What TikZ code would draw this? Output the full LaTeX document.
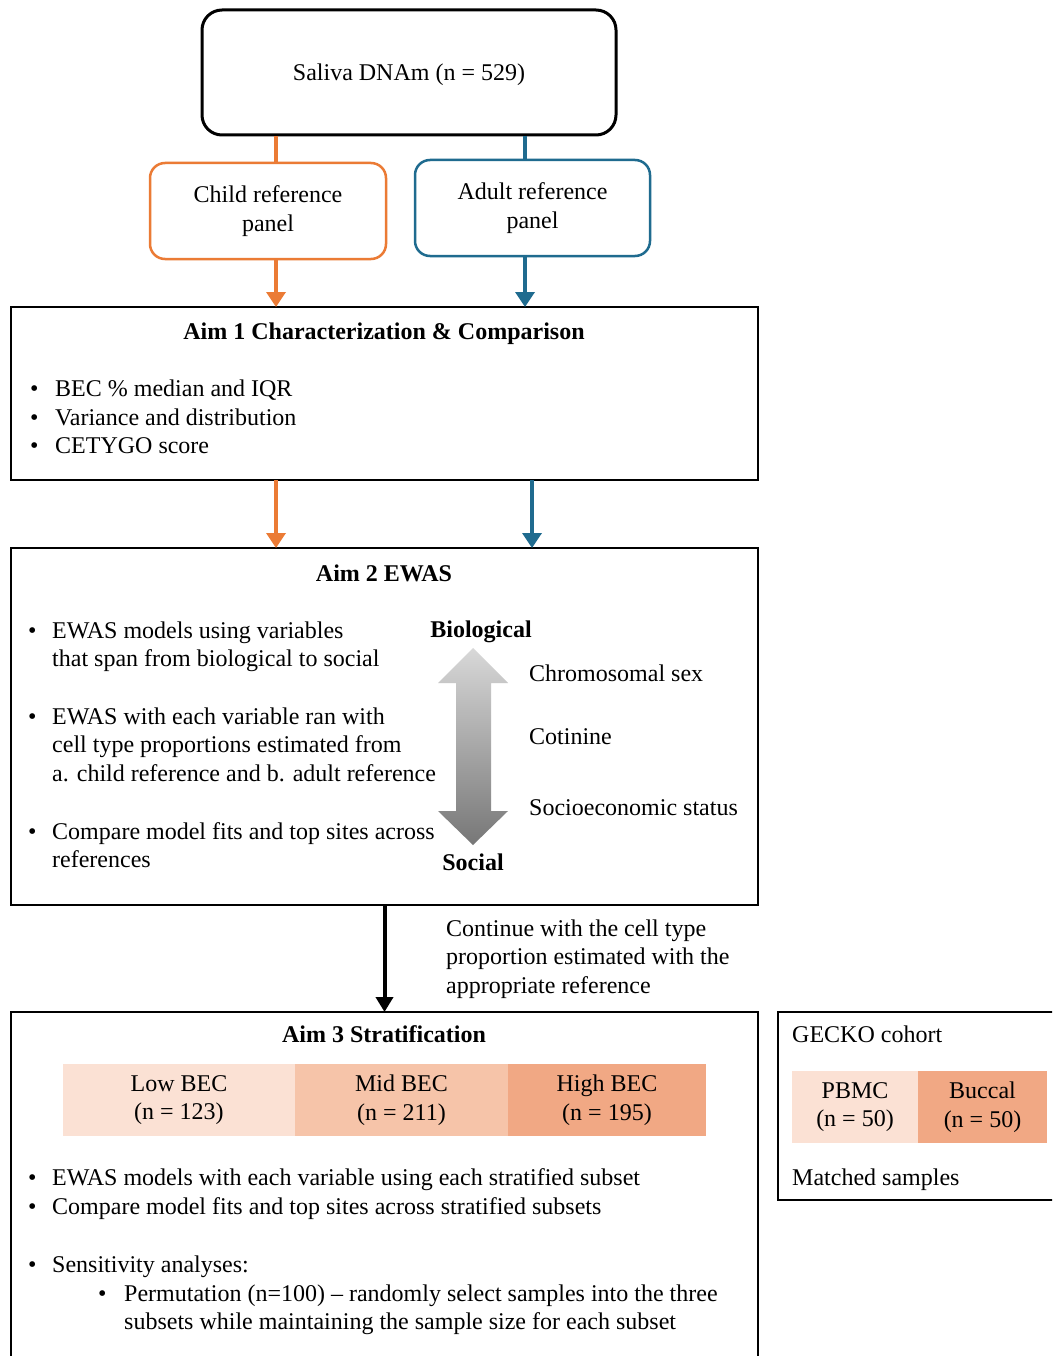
\documentclass[tikz,border=0pt]{standalone}
\usepackage{fontspec}
\setmainfont{Liberation Serif}
\usetikzlibrary{arrows.meta,positioning,calc}
\definecolor{RefOrange}{HTML}{EB7B35}
\definecolor{RefBlue}{HTML}{1F6B8F}
\definecolor{BecLow}{HTML}{FBE1D4}
\definecolor{BecMid}{HTML}{F6C4A9}
\definecolor{BecHigh}{HTML}{F1A884}
\definecolor{ArrLight}{HTML}{D8D8D8}
\definecolor{ArrDark}{HTML}{777777}
\newcommand{\bodyfont}{\fontsize{24}{28.5}\selectfont}
\newcommand{\bitem}[2][21pt]{\makebox[#1][l]{\textbullet}\begin{tabular}[t]{@{}l@{}}#2\end{tabular}}
\tikzset{
  aimbox/.style={draw=black,line width=2.5pt,minimum width=747pt,inner sep=0pt,outer sep=0pt},
  refbox/.style={rounded corners=15pt,line width=2.5pt,align=center,minimum width=236pt,minimum height=96pt,font=\bodyfont,fill=white},
  aimtitle/.style={font=\bodyfont\bfseries,anchor=base},
  bodytext/.style={font=\bodyfont,anchor=base west,inner sep=0pt},
  stratcell/.style={align=center,font=\bodyfont,minimum height=72pt,inner sep=0pt,outer sep=0pt},
  orarrow/.style={-{Triangle[length=15pt,width=19pt]},line width=3.5pt,draw=RefOrange},
  bluarrow/.style={-{Triangle[length=15pt,width=19pt]},line width=3.5pt,draw=RefBlue},
  blkarrow/.style={-{Triangle[length=15pt,width=17pt]},line width=4pt,draw=black}
}
\begin{document}
\begin{tikzpicture}[x=1pt,y=-1pt]
\clip (0,0) rectangle (1052,1356);
\fill[white] (0,0) rectangle (1052,1356);

% source and reference panels
\node[draw=black,line width=3pt,rounded corners=20pt,minimum width=414pt,minimum height=125pt,font=\bodyfont,text height=17pt,text depth=0pt] (saliva) at (409,72.5) {Saliva DNAm (n = 529)};
\node[refbox,draw=RefOrange] (child) at (268,211) {Child reference\\panel};
\node[refbox,draw=RefBlue,minimum width=235pt] (adult) at (532.5,208) {Adult reference\\panel};
\coordinate (orx) at (276,0);
\coordinate (blx) at (525,0);
\coordinate (blx2) at (532,0);

% aim boxes
\node[aimbox,minimum height=173pt] (aimone) at (384.5,393.5) {};
\node[aimbox,minimum height=357pt] (aimtwo) at (384.5,726.5) {};
\node[aimbox,minimum height=420pt] (aimthree) at (384.5,1222) {};
\node[draw=black,line width=2.5pt,minimum width=290pt,minimum height=188pt,inner sep=0pt] (gecko) at (923,1106) {};

% connectors
\draw[line width=3.5pt,draw=RefOrange] (saliva.south -| orx) -- (child.north -| orx);
\draw[line width=3.5pt,draw=RefBlue] (saliva.south -| blx) -- (adult.north -| blx);
\draw[orarrow] (child.south -| orx) -- (aimone.north -| orx);
\draw[bluarrow] (adult.south -| blx) -- (aimone.north -| blx);
\draw[orarrow] (aimone.south -| orx) -- (aimtwo.north -| orx);
\draw[bluarrow] (aimone.south -| blx2) -- (aimtwo.north -| blx2);
\draw[blkarrow] (aimtwo.south) -- (aimthree.north);

% aim 1
\node[aimtitle] (aimonet) at (384,339) {Aim 1 Characterization \& Comparison};
\node[bodytext] (a1b1) at (30,396) {\bitem[25pt]{BEC \% median and IQR}};
\node[bodytext] (a1b2) at (30,425) {\bitem[25pt]{Variance and distribution}};
\node[bodytext] (a1b3) at (30,453) {\bitem[25pt]{CETYGO score}};

% aim 2
\node[aimtitle] (aimtwot) at (384,581) {Aim 2 EWAS};
\node[bodytext] (a2b1) at (28,638) {\bitem[24pt]{EWAS models using variables\\that span from biological to social}};
\node[bodytext] (a2b2) at (28,724) {\bitem[24pt]{EWAS with each variable ran with\\cell type proportions estimated from\\a. child reference and b. adult reference}};
\node[bodytext] (a2b3) at (28,839) {\bitem[24pt]{Compare model fits and top sites across\\references}};
\shade[top color=ArrLight,bottom color=ArrDark]
  (473,648) -- (508,683) -- (491,683) -- (491,811) -- (508,811) -- (473,845)
  -- (438,811) -- (456,811) -- (456,683) -- (438,683) -- cycle;
\node[font=\bodyfont\bfseries,anchor=base] (bio) at (481,637) {Biological};
\node[font=\bodyfont\bfseries,anchor=base] (soc) at (473,870) {Social};
\node[bodytext] (chrom) at (529,681) {Chromosomal sex};
\node[bodytext] (cot) at (529,744) {Cotinine};
\node[bodytext] (ses) at (529,815) {Socioeconomic status};

\node[bodytext,align=left] (cont) at (446,993) {Continue with the cell type\\proportion estimated with the\\appropriate reference};

% aim 3
\node[aimtitle] (aimthreet) at (384,1042) {Aim 3 Stratification};
\node[stratcell,fill=BecLow,minimum width=232pt,anchor=north west] (low) at (63,1064) {Low BEC\\(n = 123)};
\node[stratcell,fill=BecMid,minimum width=213pt,right=0pt of low] (mid) {Mid BEC\\(n = 211)};
\node[stratcell,fill=BecHigh,minimum width=198pt,right=0pt of mid] (high) {High BEC\\(n = 195)};
\node[bodytext] (a3b1) at (28,1185) {\bitem[24pt]{EWAS models with each variable using each stratified subset}};
\node[bodytext] (a3b2) at (28,1214) {\bitem[24pt]{Compare model fits and top sites across stratified subsets}};
\node[bodytext] (a3b3) at (28,1272) {\bitem[24pt]{Sensitivity analyses:}};
\node[bodytext] (a3b4) at (98,1301) {\bitem[26pt]{Permutation (n=100) -- randomly select samples into the three\\subsets while maintaining the sample size for each subset}};

% GECKO cohort
\node[bodytext] (geckot) at (792,1042) {GECKO cohort};
\node[stratcell,fill=BecLow,minimum width=126pt,anchor=north west] (pbmc) at (792,1071) {PBMC\\(n = 50)};
\node[stratcell,fill=BecHigh,minimum width=129pt,right=0pt of pbmc] (buccal) {Buccal\\(n = 50)};
\node[bodytext] (matched) at (792,1185) {Matched samples};
\end{tikzpicture}
\end{document}
